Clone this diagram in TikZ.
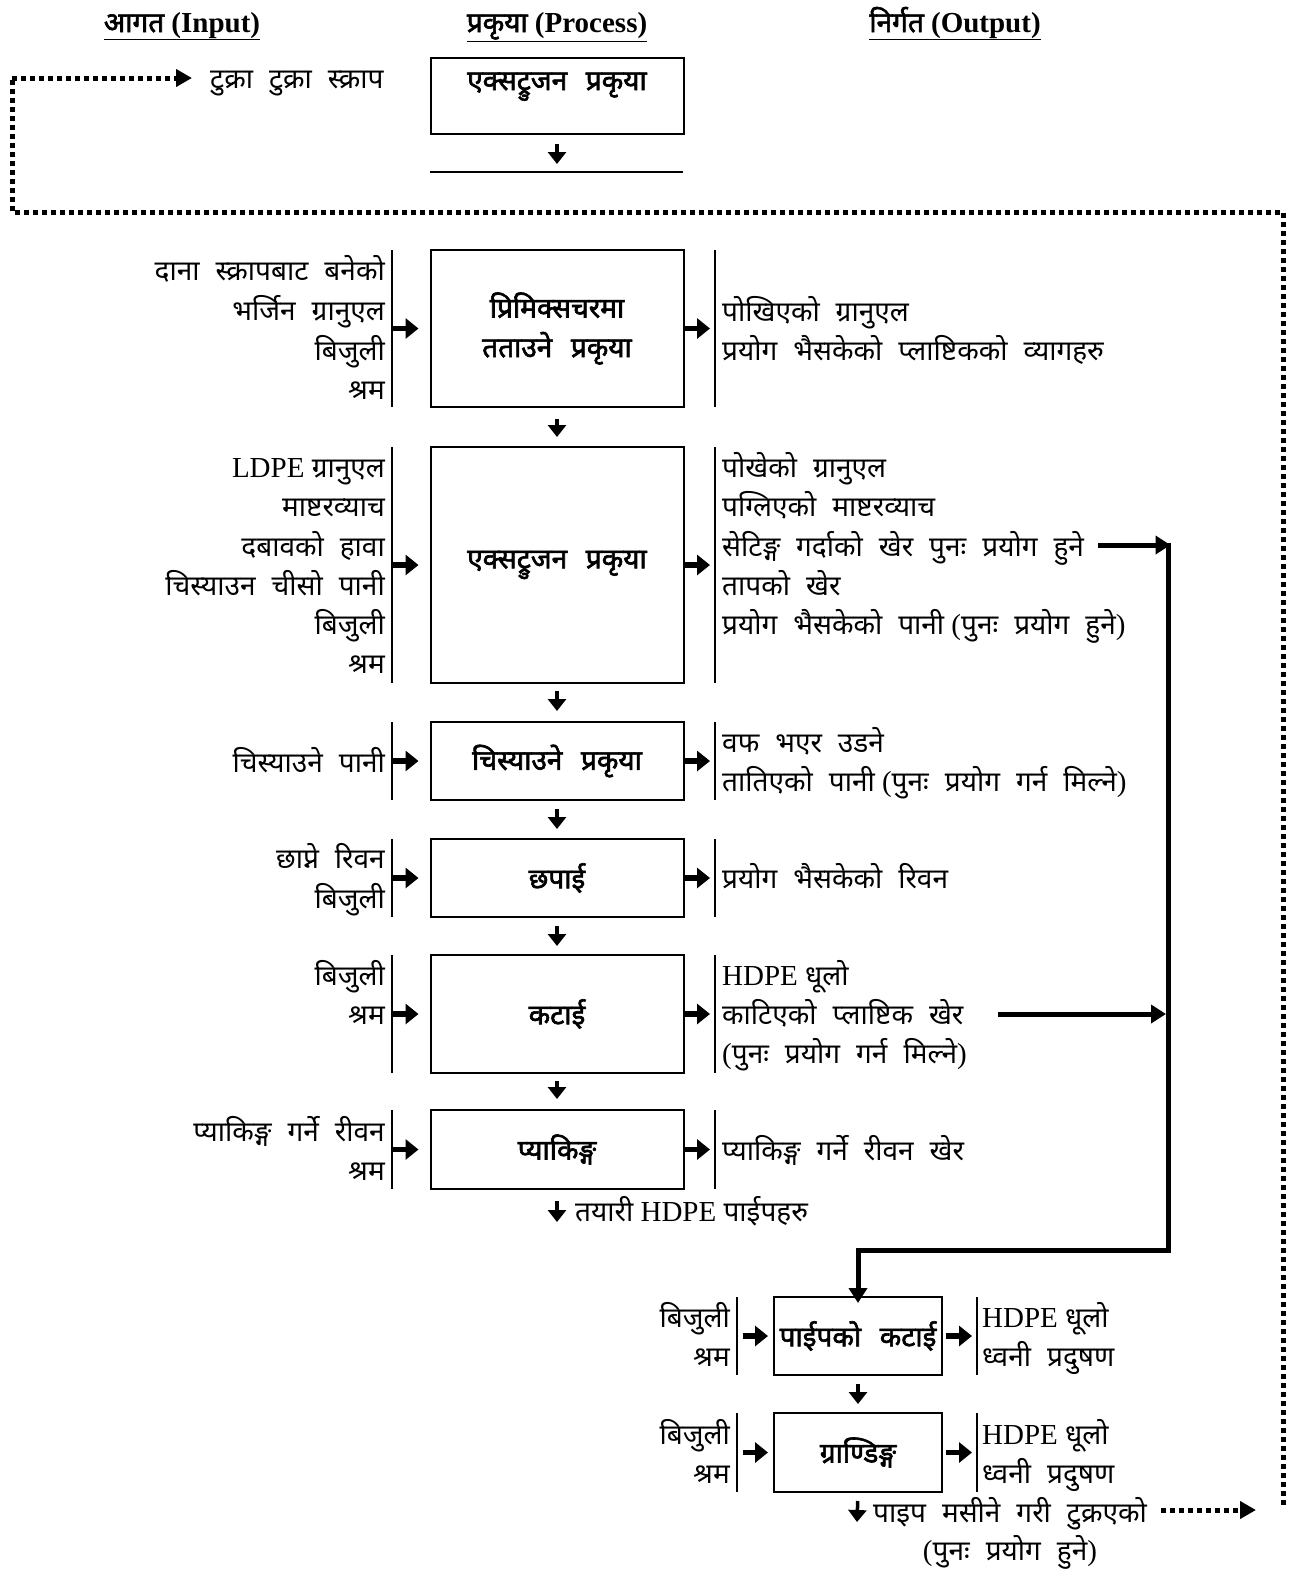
\documentclass[tikz,border=0pt]{standalone}
\usepackage{fontspec}
\setmainfont{Liberation Serif}
\newfontfamily\devfont[Script=Devanagari, WordSpace=2.2]{Noto Sans}
\newfontfamily\devbfont[Script=Devanagari, WordSpace=1.6, FakeBold=2.2]{Noto Sans}
\usetikzlibrary{arrows.meta}
\newcommand{\D}[1]{{\devfont\fontsize{28pt}{39.5pt}\selectfont #1}}
\newcommand{\DB}[1]{{\devbfont\fontsize{28pt}{39.5pt}\selectfont #1}}
\begin{document}
\begin{tikzpicture}[x=1pt,y=-1pt,
  font=\fontsize{29pt}{39.5pt}\selectfont,
  pbox/.style={draw, line width=2pt, minimum width=253pt, inner sep=0pt, align=center},
  sbox/.style={draw, line width=2pt, minimum width=168pt, minimum height=78pt, inner sep=0pt, align=center},
  inl/.style={anchor=base east, inner sep=0pt},
  outl/.style={anchor=base west, inner sep=0pt},
  hdr/.style={anchor=base, inner sep=0pt, font=\fontsize{29pt}{39.5pt}\selectfont\bfseries},
  bar/.style={line width=1.6pt},
  harr/.style={line width=5.5pt, -{Triangle[length=13pt,width=20pt]}},
  darr/.style={line width=3.5pt, -{Triangle[length=12pt,width=18pt]}},
  thk/.style={line width=5pt},
  tarr/.style={line width=5pt, -{Triangle[length=15pt,width=18pt]}},
  dotl/.style={line width=5pt, dash pattern=on 5pt off 4pt},
  dotarr/.style={line width=5pt, dash pattern=on 5pt off 4pt, -{Triangle[length=16pt,width=17pt]}},
]
\useasboundingbox (0,0) rectangle (1300,1569);

% headers
\node[hdr] (h1) at (182,32) {\underline{\DB{आगत} (Input)}};
\node[hdr] (h2) at (557,32) {\underline{\DB{प्रकृया} (Process)}};
\node[hdr] (h3) at (955,32) {\underline{\DB{निर्गत} (Output)}};

% top part
\node[pbox, minimum height=76pt] (b0) at (557,96) {};
\node[anchor=base, inner sep=0pt] (t0) at (557,90) {\DB{एक्सट्रुजन प्रकृया}};
\node[outl] (scrap) at (210,88) {\D{टुक्रा टुक्रा स्क्राप}};
\coordinate (r0) at (557,172);
\draw[line width=2pt] (430,172) -- (683,172);
\draw[darr, shorten <=9pt, shorten >=8pt] (b0.south) -- (r0);

% main boxes
\node[pbox, minimum height=157pt] (b1) at (557,328.5) {\DB{प्रिमिक्सचरमा}\\\DB{तताउने प्रकृया}};
\node[pbox, minimum height=236pt] (b2) at (557,565) {\DB{एक्सट्रुजन प्रकृया}};
\node[pbox, minimum height=78pt] (b3) at (557,761) {\DB{चिस्याउने प्रकृया}};
\node[pbox, minimum height=78pt] (b4) at (557,878) {\DB{छपाई}};
\node[pbox, minimum height=118pt] (b5) at (557,1014) {\DB{कटाई}};
\node[pbox, minimum height=79pt] (b6) at (557,1149.5) {\DB{प्याकिङ्ग}};

% down arrows
\draw[darr, shorten <=11pt, shorten >=9pt] (b1.south) -- (b2.north);
\draw[darr, shorten <=7pt, shorten >=10pt] (b2.south) -- (b3.north);
\draw[darr, shorten <=8pt, shorten >=9pt] (b3.south) -- (b4.north);
\draw[darr, shorten <=8pt, shorten >=8pt] (b4.south) -- (b5.north);
\draw[darr, shorten <=7pt, shorten >=10pt] (b5.south) -- (b6.north);
\node[outl] (fin) at (575,1221) {\D{तयारी} HDPE \D{पाईपहरु}};
\coordinate (fa) at (557,1222);
\draw[darr, shorten <=11pt] (b6.south) -- (fa);

% bars: inputs x=392, outputs x=715
\foreach \n/\t/\b in {1/250/407, 2/447/683, 3/722/800, 4/839/917, 5/955/1073, 6/1110/1189}{
  \draw[bar] (392,\t) -- (392,\b);
  \draw[bar] (715,\t) -- (715,\b);
  \coordinate (ib\n) at (392,{(\t+\b)/2});
  \coordinate (ob\n) at (715,{(\t+\b)/2});
}
\foreach \n in {1,...,6}{
  \draw[harr] (ib\n) -- ([xshift=-11pt]b\n.west);
  \draw[harr] (b\n.east) -- ([xshift=-5pt]ob\n);
}

% input texts
\node[inl] (i1a) at (385,280) {\D{दाना स्क्रापबाट बनेको}};
\node[inl] (i1b) at (385,320) {\D{भर्जिन ग्रानुएल}};
\node[inl] (i1c) at (385,360) {\D{बिजुली}};
\node[inl] (i1d) at (385,399) {\D{श्रम}};
\node[inl] (i2a) at (385,477) {LDPE \D{ग्रानुएल}};
\node[inl] (i2b) at (385,516) {\D{माष्टरव्याच}};
\node[inl] (i2c) at (385,556) {\D{दबावको हावा}};
\node[inl] (i2d) at (385,595) {\D{चिस्याउन चीसो पानी}};
\node[inl] (i2e) at (385,634) {\D{बिजुली}};
\node[inl] (i2f) at (385,673) {\D{श्रम}};
\node[inl] (i3a) at (385,772) {\D{चिस्याउने पानी}};
\node[inl] (i4a) at (385,868) {\D{छाप्ने रिवन}};
\node[inl] (i4b) at (385,908) {\D{बिजुली}};
\node[inl] (i5a) at (385,985) {\D{बिजुली}};
\node[inl] (i5b) at (385,1024) {\D{श्रम}};
\node[inl] (i6a) at (385,1141) {\D{प्याकिङ्ग गर्ने रीवन}};
\node[inl] (i6b) at (385,1180) {\D{श्रम}};

% output texts
\node[outl] (o1a) at (722,321) {\D{पोखिएको ग्रानुएल}};
\node[outl] (o1b) at (722,360) {\D{प्रयोग भैसकेको प्लाष्टिकको व्यागहरु}};
\node[outl] (o2a) at (722,477) {\D{पोखेको ग्रानुएल}};
\node[outl] (o2b) at (722,516) {\D{पग्लिएको माष्टरव्याच}};
\node[outl] (o2c) at (722,556) {\D{सेटिङ्ग गर्दाको खेर पुनः प्रयोग हुने}};
\node[outl] (o2d) at (722,595) {\D{तापको खेर}};
\node[outl] (o2e) at (722,634) {\D{प्रयोग भैसकेको पानी} (\D{पुनः प्रयोग हुने})};
\node[outl] (o3a) at (722,752) {\D{वफ भएर उडने}};
\node[outl] (o3b) at (722,791) {\D{तातिएको पानी} (\D{पुनः प्रयोग गर्न मिल्ने})};
\node[outl] (o4a) at (722,888) {\D{प्रयोग भैसकेको रिवन}};
\node[outl] (o5a) at (722,985) {HDPE \D{धूलो}};
\node[outl] (o5b) at (722,1024) {\D{काटिएको प्लाष्टिक खेर}};
\node[outl] (o5c) at (722,1063) {(\D{पुनः प्रयोग गर्न मिल्ने})};
\node[outl] (o6a) at (722,1160) {\D{प्याकिङ्ग गर्ने रीवन खेर}};

% bottom section
\node[sbox] (b7) at (858,1336) {\DB{पाईपको कटाई}};
\node[sbox, minimum height=79pt] (b8) at (858,1452.5) {\DB{ग्राण्डिङ्ग}};
\draw[darr, shorten <=8pt, shorten >=8pt] (b7.south) -- (b8.north);
\foreach \n/\t/\b in {7/1297/1375, 8/1413/1492}{
  \draw[bar] (737,\t) -- (737,\b);
  \draw[bar] (977,\t) -- (977,\b);
  \coordinate (ib\n) at (737,{(\t+\b)/2});
  \coordinate (ob\n) at (977,{(\t+\b)/2});
  \draw[harr, shorten <=6pt] (ib\n) -- ([xshift=-5pt]b\n.west);
  \draw[harr, shorten <=3pt] (b\n.east) -- ([xshift=-5pt]ob\n);
}
\node[inl] (i7a) at (730,1327) {\D{बिजुली}};
\node[inl] (i7b) at (730,1366) {\D{श्रम}};
\node[inl] (i8a) at (730,1444) {\D{बिजुली}};
\node[inl] (i8b) at (730,1483) {\D{श्रम}};
\node[outl] (o7a) at (982,1327) {HDPE \D{धूलो}};
\node[outl] (o7b) at (982,1366) {\D{ध्वनी प्रदुषण}};
\node[outl] (o8a) at (982,1444) {HDPE \D{धूलो}};
\node[outl] (o8b) at (982,1483) {\D{ध्वनी प्रदुषण}};

\node[outl] (fin2) at (873,1522) {\D{पाइप मसीने गरी टुक्रएको}};
\node[anchor=base, inner sep=0pt] (fin3) at (1010,1560) {(\D{पुनः प्रयोग हुने})};
\coordinate (fb) at (857,1522);
\draw[darr, shorten <=8pt] (b8.south) -- (fb);

% thick recycling lines
\coordinate (sj) at (1168,545);
\coordinate (sc) at (1168,1250);
\coordinate (sd) at (858,1250);
\draw[tarr] ([xshift=14pt]o2c.east |- 0,545) -- ([xshift=2.5pt]sj);
\draw[thk] (1168,542.5) -- (sc) -- (sd);
\draw[tarr] (858,1247.5) -- ([yshift=-7pt]b7.north);
\draw[tarr] (998,1014) -- (1166,1014);

% dotted loop
\coordinate (d1) at (1283,212);
\coordinate (d2) at (12,212);
\coordinate (d3) at (12,78);
\draw[dotl] (1283,1505) -- (d1) -- (d2) -- (d3);
\draw[dotarr] (d3) -- ([xshift=-18pt]scrap.west |- d3);
\draw[dotarr] ([xshift=14pt]fin2.east |- 0,1510) -- (1256,1510);
\end{tikzpicture}
\end{document}
